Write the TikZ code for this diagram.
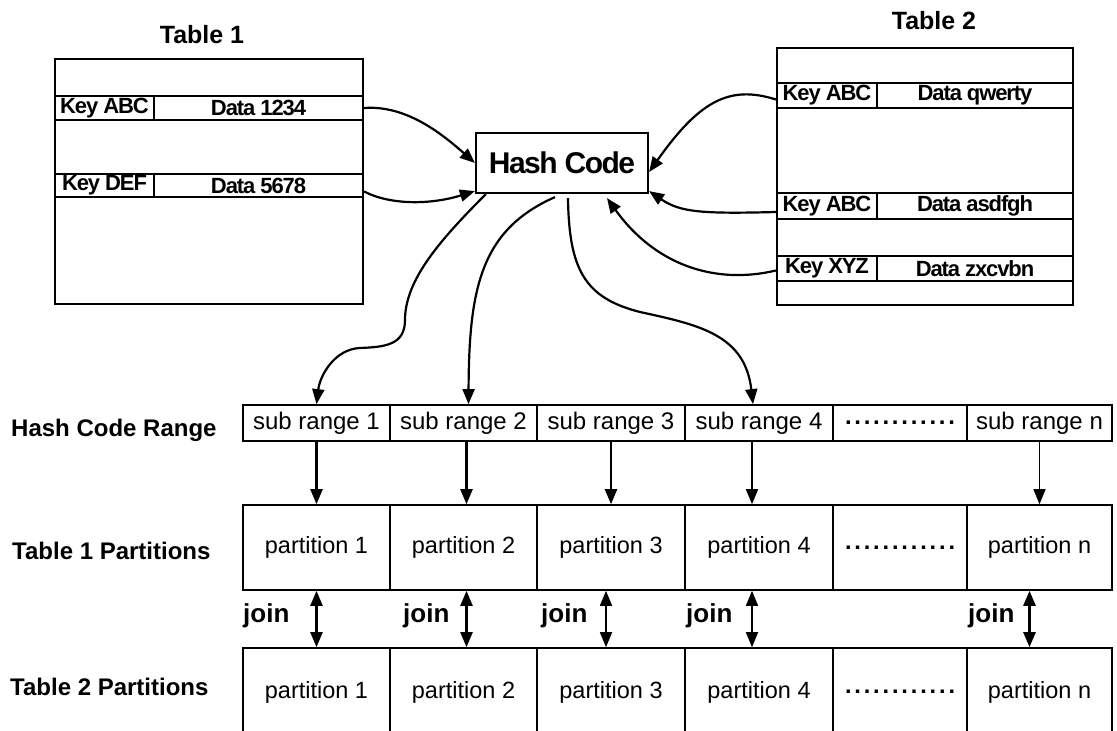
\documentclass[tikz,border=0pt]{standalone}
\usepackage{fontspec}
\setmainfont{Liberation Sans}
\newfontfamily\tightfont[LetterSpace=-5]{Liberation Sans}
\usetikzlibrary{arrows.meta}
\tikzset{
  tbl/.style={draw, line width=2.4pt, inner sep=0pt},
  tcell/.style={draw, line width=2.2pt, inner sep=0pt, font=\tightfont\bfseries\fontsize{22}{24}\selectfont},
  ttitle/.style={inner sep=0pt, font=\bfseries\fontsize{25}{28}\selectfont},
  hashbox/.style={draw, line width=2.2pt, inner sep=0pt, minimum width=172pt, minimum height=60pt, font=\tightfont\bfseries\fontsize{30}{32}\selectfont},
  rcell/.style={draw, line width=1.8pt, inner sep=0pt, minimum height=36pt, font=\fontsize{24}{26}\selectfont},
  pcell/.style={draw, line width=1.6pt, inner sep=0pt, font=\fontsize{23.5}{26}\selectfont},
  rowlabel/.style={anchor=base west, inner sep=0pt, font=\bfseries\fontsize{24}{26}\selectfont},
  joinlabel/.style={anchor=base west, inner sep=0pt, font=\bfseries\fontsize{26}{28}\selectfont},
  arr/.style={line width=2.2pt, -{Triangle[length=15pt,width=12pt]}},
  darr/.style={line width=2.2pt, {Triangle[length=15pt,width=12pt]}-{Triangle[length=15pt,width=12pt]}},
}
\newcommand{\dotrow}{\bfseries\makebox[110pt][s]{.\hfil.\hfil.\hfil.\hfil.\hfil.\hfil.\hfil.\hfil.\hfil.\hfil.\hfil.}}
\begin{document}
\begin{tikzpicture}[x=1pt, y=-1pt]
\useasboundingbox (0,0) rectangle (1117,731);
\clip (0,0) rectangle (1117,731);
\fill[white] (0,0) rectangle (1117,731);

% Table 1
\node[ttitle] (t1title) at (202,35) {Table 1};
\node[tbl, minimum width=308pt, minimum height=245pt] (t1) at (209,181.5) {};
\node[tcell, minimum width=99pt, minimum height=24pt] (t1k1) at (104.5,108) {Key ABC};
\node[tcell, minimum width=209pt, minimum height=24pt] (t1d1) at (258.5,108) {Data 1234};
\node[tcell, minimum width=99pt, minimum height=23pt] (t1k2) at (104.5,185.5) {Key DEF};
\node[tcell, minimum width=209pt, minimum height=23pt] (t1d2) at (258.5,185.5) {Data 5678};

% Table 2
\node[ttitle] (t2title) at (934,21) {Table 2};
\node[tbl, minimum width=296pt, minimum height=257pt] (t2) at (925,176.5) {};
\node[tcell, minimum width=100pt, minimum height=25pt] (t2k1) at (827,95.5) {Key ABC};
\node[tcell, minimum width=196pt, minimum height=25pt] (t2d1) at (975,95.5) {Data qwerty};
\node[tcell, minimum width=100pt, minimum height=26pt] (t2k2) at (827,206) {Key ABC};
\node[tcell, minimum width=196pt, minimum height=26pt] (t2d2) at (975,206) {Data asdfgh};
\node[tcell, minimum width=100pt, minimum height=25pt] (t2k3) at (827,268.5) {Key XYZ};
\node[tcell, minimum width=196pt, minimum height=25pt] (t2d3) at (975,268.5) {Data zxcvbn};

% Hash code
\node[hashbox] (hash) at (562,163) {Hash Code};

% Row labels
\node[rowlabel] (lrange) at (11,436) {Hash Code Range};
\node[rowlabel] (lp1) at (12,559) {Table 1 Partitions};
\node[rowlabel] (lp2) at (10,695) {Table 2 Partitions};

% Hash code range
\node[rcell, minimum width=147pt] (r1) at (316.5,423) {sub range 1};
\node[rcell, minimum width=147pt] (r2) at (463.5,423) {sub range 2};
\node[rcell, minimum width=148pt] (r3) at (611,423) {sub range 3};
\node[rcell, minimum width=148pt] (r4) at (759,423) {sub range 4};
\node[rcell, minimum width=134pt] (r5) at (900,423) {\dotrow};
\node[rcell, minimum width=145pt] (rn) at (1039.5,423) {sub range n};

% Table 1 partitions
\node[pcell, minimum width=147pt, minimum height=85pt] (p1) at (316.5,547.5) {partition 1};
\node[pcell, minimum width=147pt, minimum height=85pt] (p2) at (463.5,547.5) {partition 2};
\node[pcell, minimum width=148pt, minimum height=85pt] (p3) at (611,547.5) {partition 3};
\node[pcell, minimum width=148pt, minimum height=85pt] (p4) at (759,547.5) {partition 4};
\node[pcell, minimum width=134pt, minimum height=85pt] (p5) at (900,547.5) {\dotrow};
\node[pcell, minimum width=145pt, minimum height=85pt] (pn) at (1039.5,547.5) {partition n};

% Table 2 partitions
\node[pcell, minimum width=147pt, minimum height=88pt] (q1) at (316.5,692) {partition 1};
\node[pcell, minimum width=147pt, minimum height=88pt] (q2) at (463.5,692) {partition 2};
\node[pcell, minimum width=148pt, minimum height=88pt] (q3) at (611,692) {partition 3};
\node[pcell, minimum width=148pt, minimum height=88pt] (q4) at (759,692) {partition 4};
\node[pcell, minimum width=134pt, minimum height=88pt] (q5) at (900,692) {\dotrow};
\node[pcell, minimum width=145pt, minimum height=88pt] (qn) at (1039.5,692) {partition n};

% join labels
\node[joinlabel] (j1) at (243,622) {join};
\node[joinlabel] (j2) at (403,622) {join};
\node[joinlabel] (j3) at (541,622) {join};
\node[joinlabel] (j4) at (686,622) {join};
\node[joinlabel] (jn) at (968,622) {join};

% Arrows: tables -> hash code
\draw[arr] (t1d1.east) .. controls (405,105) and (440,132) .. (hash.west);
\draw[arr] ([yshift=-6pt]t1d2.east) .. controls (390,205) and (430,205) .. ([yshift=3pt]hash.south west);
\draw[arr] ([yshift=-4pt]t2k1.west) .. controls (730,85) and (700,100) .. ([yshift=-9pt]hash.east);
\draw[arr] ([yshift=-6pt]t2k2.west) .. controls (700,214) and (680,212) .. ([yshift=3pt]hash.south east);
\draw[arr] ([yshift=-2pt]t2k3.west) .. controls (715,285) and (655,265) .. ([xshift=45pt,yshift=-4pt]hash.south);

% Arrows: hash code -> ranges
\draw[arr] ([xshift=11pt]hash.south west) .. controls (440,240) and (405,280) .. (405,320)
   .. controls (405,345) and (385,347) .. (360,348)
   .. controls (335,349) and (320,375) .. (r1.north);
\draw[arr] ([xshift=-7pt,yshift=-3pt]hash.south) .. controls (480,230) and (469,290) .. ([xshift=5pt]r2.north);
\draw[arr] ([xshift=6pt,yshift=-4pt]hash.south) .. controls (569,270) and (585,298) .. (640,312)
   .. controls (700,325) and (745,335) .. ([xshift=-6pt]r4.north);

% Ranges -> partitions
\draw[arr] (r1.south) -- (p1.north);
\draw[arr] ([xshift=3pt]r2.south) -- ([xshift=3pt]p2.north);
\draw[arr] (r3.south) -- (p3.north);
\draw[arr, line width=1.6pt] ([xshift=-7pt]r4.south) -- ([xshift=-7pt]p4.north);
\draw[arr, line width=1.6pt] (rn.south) -- (pn.north);

% join arrows
\draw[darr] (p1.south) -- (q1.north);
\draw[darr] ([xshift=3pt]p2.south) -- ([xshift=3pt]q2.north);
\draw[darr, line width=1.6pt] ([xshift=-5pt]p3.south) -- ([xshift=-5pt]q3.north);
\draw[darr, line width=1.6pt] ([xshift=-7pt]p4.south) -- ([xshift=-7pt]q4.north);
\draw[darr, line width=2.6pt] ([xshift=-10pt]pn.south) -- ([xshift=-10pt]qn.north);
\end{tikzpicture}
\end{document}
